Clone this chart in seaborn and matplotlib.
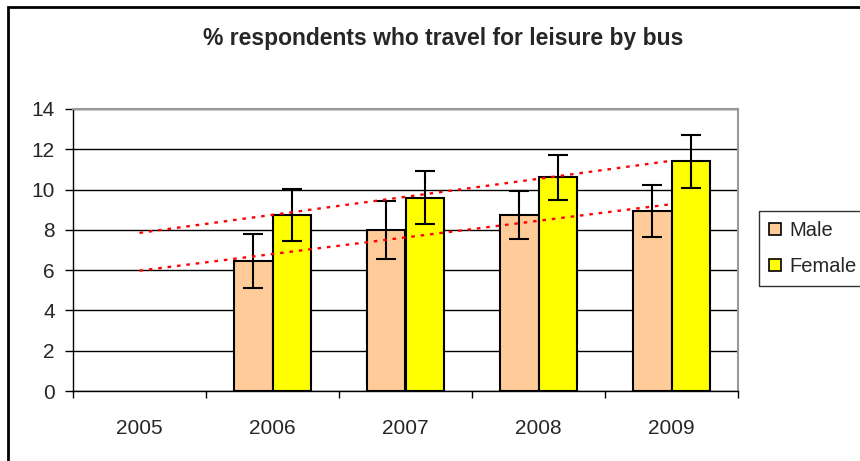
import numpy as np
import pandas as pd
import seaborn as sns
import matplotlib
matplotlib.use("Agg")
import matplotlib.pyplot as plt
from matplotlib.patches import Rectangle, Patch

# data
years = ["2005", "2006", "2007", "2008", "2009"]
male = [np.nan, 6.45, 8.0, 8.75, 8.95]
female = [np.nan, 8.75, 9.6, 10.6, 11.4]
male_err = [np.nan, 1.35, 1.45, 1.2, 1.3]
female_err = [np.nan, 1.3, 1.3, 1.1, 1.3]
yticks = [0, 2, 4, 6, 8, 10, 12, 14]

col_male = "#FFCC99"
col_female = "#FFFF00"

df = pd.DataFrame({
    "year": years * 2,
    "value": male + female,
    "sex": ["Male"] * 5 + ["Female"] * 5,
})

sns.set_style("white")
plt.rcParams["font.family"] = ["Liberation Sans", "DejaVu Sans"]

fig = plt.figure(figsize=(8.6, 4.61), dpi=100)
ax = fig.add_axes([73 / 860, 1 - 391 / 461, (738 - 73) / 860, (391 - 109) / 461])

group_w = 0.585
sns.barplot(data=df, x="year", y="value", hue="sex", order=years,
            hue_order=["Male", "Female"], palette=[col_male, col_female],
            saturation=1, width=group_w, gap=0, edgecolor="black", linewidth=1.5,
            errorbar=None, legend=False, ax=ax, zorder=3)

# error bars
xs = np.arange(len(years))
ax.errorbar(xs - group_w / 4, male, yerr=male_err, fmt="none", ecolor="black",
            elinewidth=1.5, capsize=7, capthick=1.5, zorder=4)
ax.errorbar(xs + group_w / 4, female, yerr=female_err, fmt="none", ecolor="black",
            elinewidth=1.5, capsize=7, capthick=1.5, zorder=4)

# linear trend lines, like excel
for vals in (male, female):
    v = np.array(vals)
    ok = ~np.isnan(v)
    k, b = np.polyfit(xs[ok], v[ok], 1)
    ax.plot([xs[0], xs[-1]], [k * xs[0] + b, k * xs[-1] + b], color="red",
            linestyle=(0, (1.5, 2.5)), linewidth=1.7, zorder=5)

ax.set_xlim(-0.5, len(years) - 0.5)
ax.set_ylim(0, 14)
ax.set_yticks(yticks)
ax.set_yticklabels([str(t) for t in yticks], fontsize=15)
ax.yaxis.grid(True, color="black", linewidth=1)
ax.set_axisbelow(True)

# ticks between categories, labels centred
ax.set_xticks(np.arange(-0.5, len(years), 1.0))
ax.set_xticklabels([])
ax.set_xticks(xs, minor=True)
ax.set_xticklabels(years, minor=True, fontsize=15)
ax.tick_params(axis="x", which="major", direction="out", length=5, width=1, color="black", bottom=True)
ax.tick_params(axis="x", which="minor", length=0, pad=20)
ax.tick_params(axis="y", direction="out", length=6, width=1, color="black", left=True, pad=7)
ax.set_xlabel("")
ax.set_ylabel("")

for s in ["left", "bottom"]:
    ax.spines[s].set_color("black")
    ax.spines[s].set_linewidth(1)
for s in ["top", "right"]:
    ax.spines[s].set_color("#999999")
    ax.spines[s].set_linewidth(1.5)
    ax.spines[s].set_visible(True)

fig.text(443 / 860, 1 - 38 / 461, "% respondents who travel for leisure by bus",
         ha="center", va="center", fontsize=16.5, fontweight="bold")

handles = [Patch(facecolor=col_male, edgecolor="black", linewidth=1.2, label="Male"),
           Patch(facecolor=col_female, edgecolor="black", linewidth=1.2, label="Female")]
leg = fig.legend(handles=handles, loc="upper left",
                 bbox_to_anchor=(759 / 860, 1 - 211 / 461), fontsize=14.5,
                 frameon=True, fancybox=False, handlelength=0.6, handleheight=0.6,
                 handletextpad=0.4, labelspacing=0.85, borderpad=0.5, borderaxespad=0)
leg.get_frame().set_edgecolor("black")
leg.get_frame().set_linewidth(1)

# chart area border
fig.patches.append(Rectangle((8 / 860, -0.1), 1.5, 1 - 7 / 461 + 0.1,
                             transform=fig.transFigure, fill=False,
                             edgecolor="black", linewidth=2))

fig.savefig("out.png", dpi=100, facecolor="white")
